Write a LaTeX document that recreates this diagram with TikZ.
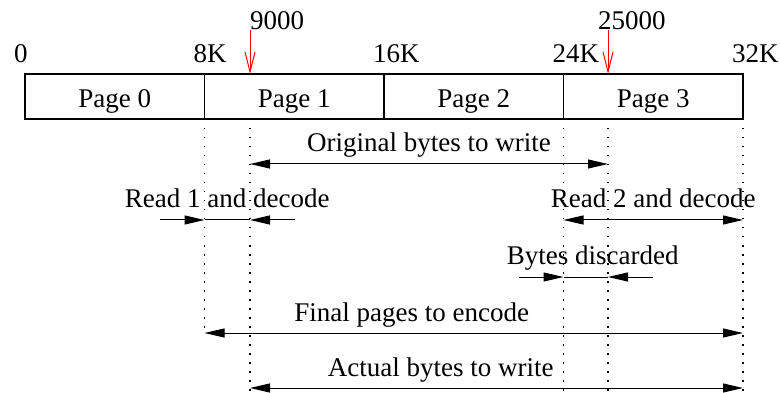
\documentclass[tikz,border=0pt]{standalone}
\usepackage{fontspec}
\setmainfont{Liberation Serif}
\usetikzlibrary{positioning, arrows.meta}
\tikzstyle{page} =
[rectangle, minimum width = 179.5pt, minimum height = 45pt, inner sep = 0pt,
outer sep = 0pt, text height = 23pt, text depth = 0pt, text centered,
line width = 1.6pt, draw=black]
\tikzstyle{boundary} = [anchor = base west, inner sep = 0pt]
\tikzstyle{dimtext} = [anchor = base, inner sep = 0pt, yshift = 12pt]
\tikzstyle{guide} = [draw, line width = 1.2pt, dash pattern = on 1.5pt off 7.5pt]
\tikzstyle{dimline} = [draw, line width = 1pt]
\tikzstyle{marker} =
[draw=red, line width = 1pt, -{Straight Barb[length = 20pt, width = 10pt]}]

\begin{document}
\begin{tikzpicture}[x = 1pt, y = -1pt, font = \fontsize{27}{32}\selectfont,
  >={Triangle[length = 20pt, width = 9pt]}]
  \useasboundingbox (0,0) rectangle (780,393);
  % pages
  \node [page] (page0) at (114.75,96.5) {Page 0};
  \node [page, right = 0pt of page0] (page1) {Page 1};
  \node [page, right = 0pt of page1] (page2) {Page 2};
  \node [page, right = 0pt of page2] (page3) {Page 3};
  % page boundaries
  \node [boundary] (k0) at ([shift = {(-11pt,11pt)}]page0.north west) {0};
  \node [boundary] (k8) at ([shift = {(-11pt,11pt)}]page1.north west) {8K};
  \node [boundary] (k16) at ([shift = {(-11pt,11pt)}]page2.north west) {16K};
  \node [boundary] (k24) at ([shift = {(-11pt,11pt)}]page3.north west) {24K};
  \node [boundary] (k32) at ([shift = {(-11pt,11pt)}]page3.north east) {32K};
  % write offsets
  \coordinate (w9000) at (250,74);
  \coordinate (w25000) at (608,74);
  \node [boundary] (m9000) at (250,30) {9000};
  \node [boundary] (m25000) at (598,30) {25000};
  \path [marker] (m9000.base west) -- (w9000);
  \path [marker] (w25000 |- m25000.base) -- (w25000);
  % levels
  \coordinate (lvorig) at (0,164);
  \coordinate (lvread) at (0,220);
  \coordinate (lvdisc) at (0,277);
  \coordinate (lvfinal) at (0,333);
  \coordinate (lvactual) at (0,388);
  \coordinate (lvend) at (0,391);
  % guides
  \path [guide] (page1.south west) -- (page1.south west |- lvfinal);
  \path [guide] (w9000 |- page1.south) -- (w9000 |- lvend);
  \path [guide] (page3.south west) -- (page3.south west |- lvend);
  \path [guide] (w25000 |- page3.south) -- (w25000 |- lvend);
  \path [guide] (page3.south east) -- (page3.south east |- lvend);
  % dimensions
  \path [dimline, <->] (w9000 |- lvorig) --
    node [dimtext] (torig) {Original bytes to write} (w25000 |- lvorig);
  \coordinate (r1out) at (160,220);
  \coordinate (r1in) at (295,220);
  \path [dimline, ->] (r1out) -- (page1.south west |- lvread);
  \path [dimline] (page1.south west |- lvread) --
    node [dimtext] (tread1) {Read 1 and decode} (w9000 |- lvread);
  \path [dimline, ->] (r1in) -- (w9000 |- lvread);
  \path [dimline, <->] (page3.south west |- lvread) --
    node [dimtext] (tread2) {Read 2 and decode} (page3.south east |- lvread);
  \coordinate (dout) at (519,277);
  \coordinate (din) at (653,277);
  \path [dimline, ->] (dout) -- (page3.south west |- lvdisc);
  \path [dimline] (page3.south west |- lvdisc) --
    node [dimtext, xshift = 7pt] (tdisc) {Bytes discarded} (w25000 |- lvdisc);
  \path [dimline, ->] (din) -- (w25000 |- lvdisc);
  \path [dimline, <->] (page1.south west |- lvfinal) --
    node [pos = 0.385, dimtext] (tfinal) {Final pages to encode}
    (page3.south east |- lvfinal);
  \path [dimline, <->] (w9000 |- lvactual) --
    node [pos = 0.387, dimtext] (tactual) {Actual bytes to write}
    (page3.south east |- lvactual);
\end{tikzpicture}
\end{document}
